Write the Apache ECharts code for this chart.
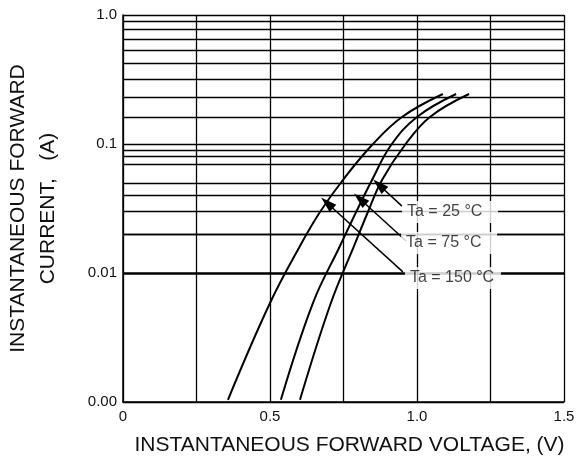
<!DOCTYPE html>
<html>
<head>
<meta charset="utf-8">
<script src="https://cdn.jsdelivr.net/npm/echarts@6/dist/echarts.min.js"></script>
<style>
  html, body { margin: 0; padding: 0; background: #fff; }
  #chart { width: 576px; height: 459px; }
</style>
</head>
<body>
<div id="chart"></div>
<script>
// forward voltage (V) / forward current (A)
var v25 = [0.602, 0.707, 0.786, 0.833, 0.881, 0.959, 1.044, 1.177];
var i25 = [0.00104, 0.00585, 0.0162, 0.0297, 0.0526, 0.0982, 0.162, 0.244];
var v75 = [0.537, 0.646, 0.738, 0.793, 0.847, 0.912, 1.000, 1.133];
var i75 = [0.00104, 0.00585, 0.0162, 0.0297, 0.0526, 0.0982, 0.162, 0.244];
var v150 = [0.357, 0.500, 0.602, 0.670, 0.748, 0.847, 0.949, 1.088];
var i150 = [0.00104, 0.00585, 0.0162, 0.0297, 0.0526, 0.0982, 0.162, 0.244];

// tick labels
var xTicks = [0, 0.5, 1.0, 1.5];
var xTickText = ['0', '0.5', '1.0', '1.5'];
var yTicks = [1, 0.1, 0.01, 0.001];
var yTickText = ['1.0', '0.1', '0.01', '0.00'];

// minor grid lines inside each decade (as drawn on the original)
var decades = [1, 0.1, 0.01];
var minorFactors = [0.891, 0.772, 0.652, 0.531, 0.421, 0.318, 0.234, 0.159];

// annotations: label anchor, arrow start, arrow tip
var noteText = ['Ta = 25 °C', 'Ta = 75 °C', 'Ta = 150 °C'];
var noteAt = [[0.949, 0.0297], [0.946, 0.0171], [0.959, 0.00914]];
var arrowFrom = [[0.949, 0.033], [0.963, 0.0177], [0.952, 0.0102]];
var arrowTo = [[0.871, 0.0481], [0.806, 0.0375], [0.694, 0.0349]];

function pairs(xs, ys) {
  var out = [];
  for (var i = 0; i < xs.length; i++) out.push([xs[i], ys[i]]);
  return out;
}

var minorLines = [];
decades.forEach(function (d) {
  minorFactors.forEach(function (f) { minorLines.push({ yAxis: d * f }); });
});

var arrows = [];
for (var k = 0; k < arrowFrom.length; k++) {
  arrows.push([{ coord: arrowFrom[k] }, { coord: arrowTo[k] }]);
}

var notes = [];
for (var k = 0; k < noteText.length; k++) {
  notes.push([noteAt[k][0], noteAt[k][1], noteText[k]]);
}

var font = 'Liberation Sans, Arial, sans-serif';
var curveStyle = { color: '#000', width: 2 };

function curve(name, xs, ys) {
  return {
    name: name, type: 'line', data: pairs(xs, ys),
    smooth: 0.4, showSymbol: false,
    lineStyle: curveStyle, z: 3
  };
}

var myChart = echarts.init(document.getElementById('chart'));
var option = {
  animation: false,
  textStyle: { fontFamily: font },
  grid: { left: 123, right: 12, top: 15, bottom: 57, outerBoundsMode: 'none', containLabel: false },
  xAxis: {
    type: 'value',
    min: 0,
    max: 1.5,
    interval: 0.25,
    name: 'INSTANTANEOUS FORWARD VOLTAGE, (V)',
    nameLocation: 'middle',
    nameGap: 33,
    nameTextStyle: { fontSize: 21, color: '#111', fontFamily: font, padding: [0, 0, 0, 12] },
    axisLine: { lineStyle: { color: '#000', width: 1.5 } },
    axisTick: { show: false },
    axisLabel: {
      fontSize: 15, color: '#111', margin: 7,
      formatter: function (v) {
        var i = xTicks.indexOf(v);
        return i >= 0 ? xTickText[i] : '';
      }
    },
    splitLine: { show: true, lineStyle: { color: '#000', width: 1.3 } }
  },
  yAxis: {
    type: 'log',
    logBase: 10,
    min: 0.001,
    max: 1,
    name: 'INSTANTANEOUS FORWARD\nCURRENT,   (A)',
    nameLocation: 'middle',
    nameGap: 60,
    nameTextStyle: { fontSize: 21, color: '#111', fontFamily: font, lineHeight: 30 },
    axisLine: { lineStyle: { color: '#000', width: 1.5 } },
    axisTick: { show: false },
    axisLabel: {
      fontSize: 15, color: '#111', margin: 6,
      formatter: function (v) {
        for (var i = 0; i < yTicks.length; i++) {
          if (Math.abs(v - yTicks[i]) < yTicks[i] * 1e-6) return yTickText[i];
        }
        return '';
      }
    },
    splitLine: { show: true, lineStyle: { color: '#000', width: 1.3 } }
  },
  series: [
    {
      name: 'grid',
      type: 'line',
      data: [],
      silent: true,
      markLine: {
        silent: true,
        symbol: 'none',
        label: { show: false },
        lineStyle: { color: '#000', width: 1.3, type: 'solid' },
        data: minorLines
      }
    },
    curve('Ta = 25', v25, i25),
    curve('Ta = 75', v75, i75),
    curve('Ta = 150', v150, i150),
    {
      name: 'arrows',
      type: 'line',
      data: [],
      markLine: {
        silent: true,
        symbol: ['none', 'triangle'],
        symbolSize: [10, 16],
        label: { show: false },
        lineStyle: { color: '#000', width: 1.5, type: 'solid' },
        data: arrows
      }
    },
    {
      name: 'notes',
      type: 'scatter',
      data: notes,
      symbolSize: 0,
      z: 10,
      label: {
        show: true,
        position: 'right',
        distance: 0,
        formatter: function (p) { return p.data[2]; },
        fontSize: 16,
        color: '#111',
        fontFamily: font,
        backgroundColor: '#fff',
        padding: [3, 5],
        width: 86
      }
    }
  ]
};
myChart.setOption(option);
</script>
</body>
</html>
